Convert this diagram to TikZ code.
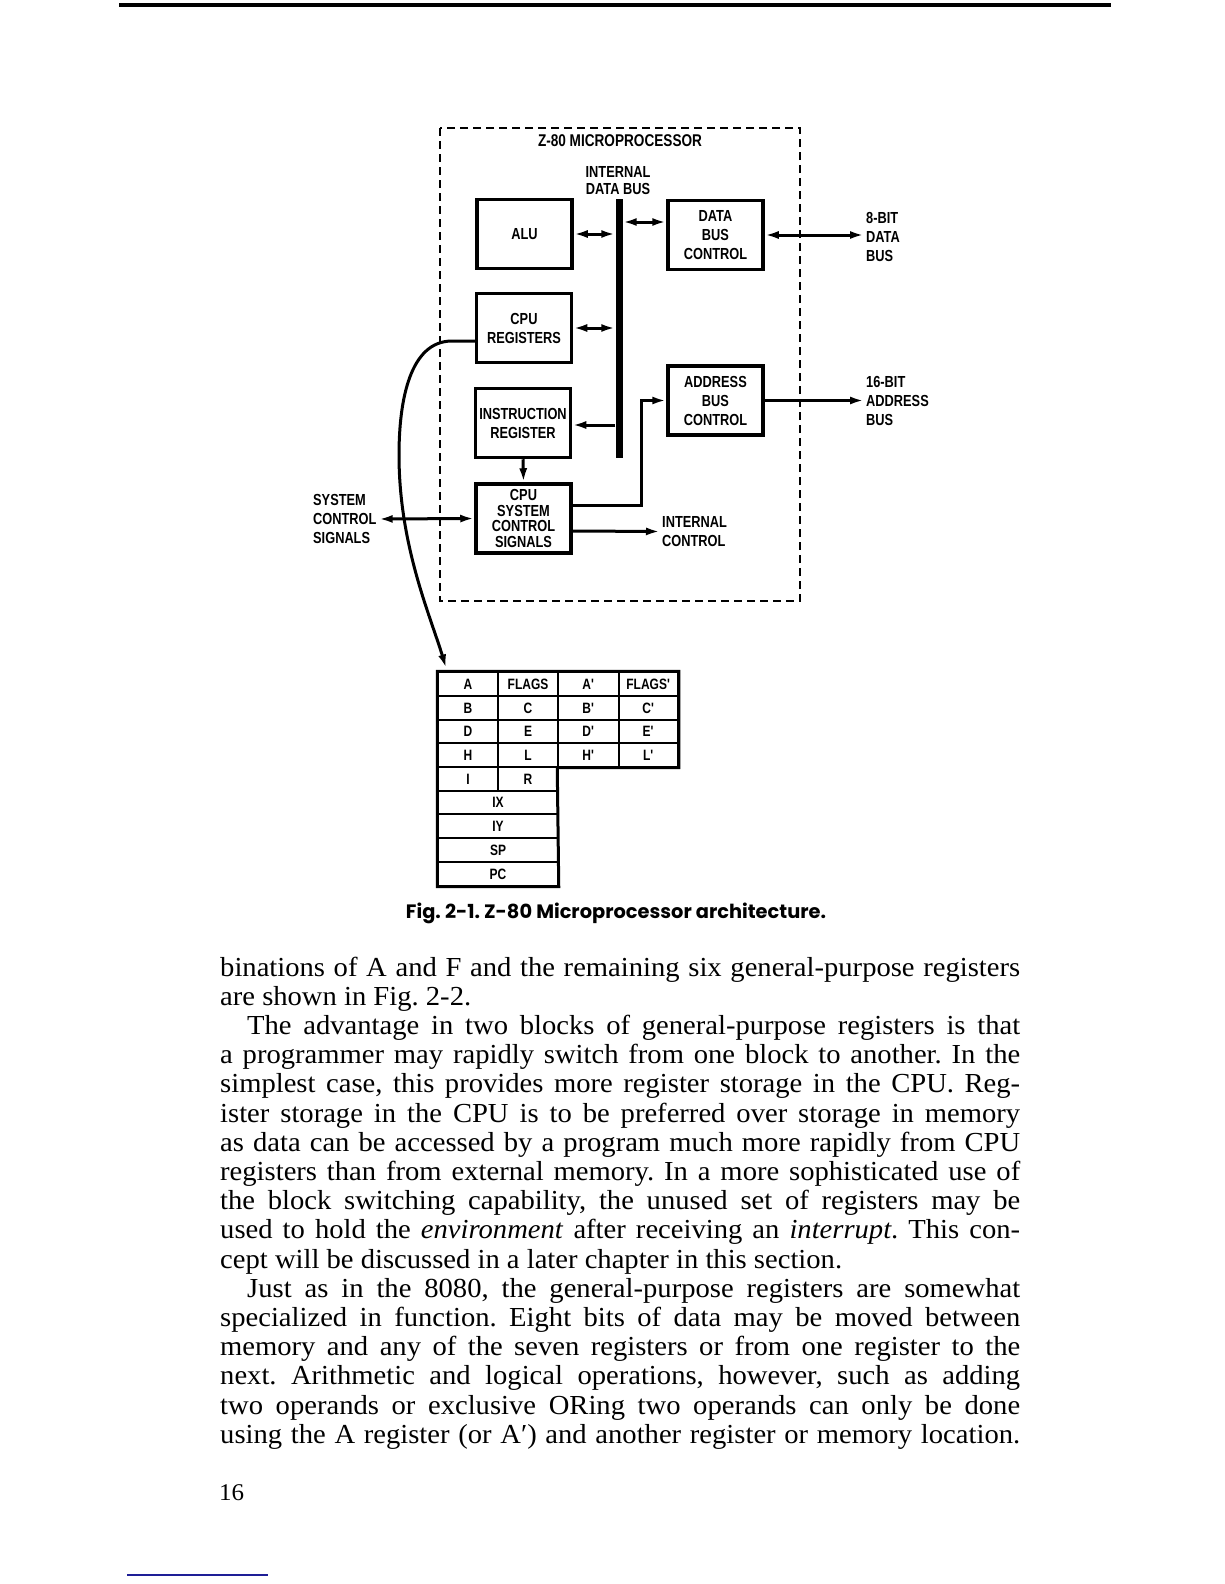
\documentclass[tikz,border=0pt]{standalone}
\usepackage{fontspec}
\setmainfont{Liberation Serif}[FakeStretch=1.04]
\newfontfamily\dfont{Liberation Sans}[FakeStretch=0.8]
\newfontfamily\capfont{Poppins}
\usetikzlibrary{arrows.meta,calc}
\definecolor{linkblue}{RGB}{30,30,150}
\tikzset{
  blk/.style={draw, line width=3.5pt, minimum width=95pt, minimum height=69pt, inner sep=0pt, align=center,
    font=\dfont\bfseries\fontsize{16}{19}\selectfont},
  lbl/.style={inner sep=2pt, font=\dfont\bfseries\fontsize{16}{19}\selectfont},
  arr/.style={line width=3pt, -{Latex[length=14pt,width=8pt]}},
  darr/.style={line width=3pt, {Latex[length=14pt,width=8pt]}-{Latex[length=14pt,width=8pt]}},
  cell/.style={draw, line width=1.5pt, minimum height=23.7pt, inner sep=0pt,
    font=\dfont\bfseries\fontsize{15}{15}\selectfont},
  body/.style={anchor=base west, inner sep=0pt, font=\fontsize{27.5}{29}\selectfont},
}
\newcommand{\jl}[1]{\makebox[800pt][s]{#1}}
\newcommand{\jli}[1]{\makebox[773pt][s]{#1}}
\newcommand{\pr}{\textquotesingle}
\begin{document}
\frenchspacing
\begin{tikzpicture}[x=1pt,y=-1pt]
\useasboundingbox (0,0) rectangle (1224,1584);
% top rule
\draw[line width=4.5pt] (119,5) -- (1111,5);
% dashed frame
\draw[line width=1.5pt, dash pattern=on 8pt off 5pt] (440,128) rectangle (800,601);
\node[lbl, font=\dfont\bfseries\fontsize{17}{19}\selectfont] (title) at (620,141) {Z-80 MICROPROCESSOR};
\node[lbl, align=center, font=\dfont\bfseries\fontsize{16}{17}\selectfont] (idb) at (618,180.5) {INTERNAL\\DATA BUS};
% bus bar
\node[fill, minimum width=7pt, minimum height=259pt, inner sep=0pt] (bus) at (619,328.5) {};
% blocks
\node[blk] (alu) at (524.5,234) {ALU};
\node[blk] (dbc) at (715.5,235) {DATA\\BUS\\CONTROL};
\node[blk] (creg) at (524,328) {CPU\\REGISTERS};
\node[blk] (ir) at (523,423) {INSTRUCTION\\REGISTER};
\node[blk] (abc) at (715.5,400.5) {ADDRESS\\BUS\\CONTROL};
\node[blk, font=\dfont\bfseries\fontsize{16}{15.5}\selectfont] (cscs) at (523.5,518.5) {CPU\\SYSTEM\\CONTROL\\SIGNALS};
% outside labels
\node[lbl, anchor=west, align=left] (db) at (864,237) {8-BIT\\DATA\\BUS};
\node[lbl, anchor=west, align=left] (ab) at (864,401) {16-BIT\\ADDRESS\\BUS};
\node[lbl, anchor=west, align=left] (ic) at (660,531.5) {INTERNAL\\CONTROL};
\node[lbl, anchor=west, align=left] (scs) at (311,519) {SYSTEM\\CONTROL\\SIGNALS};
% connectors
\draw[darr] (alu.east) -- (alu.east -| bus.west);
\draw[darr] ([yshift=13pt]dbc.west -| bus.east) -- ([yshift=13pt]dbc.west);
\draw[darr] (creg.east) -- (creg.east -| bus.west);
\draw[arr] ([yshift=-2pt]ir.east -| bus.west) -- ([yshift=-2pt]ir.east);
\draw[arr] (ir.south) -- (cscs.north);
\draw[arr] ([yshift=13.5pt]cscs.east) -- ++(69,0) |- (abc.west);
\draw[arr] ([yshift=-12.5pt]cscs.east) -- (ic.west);
\draw[darr] (scs.east) -- (cscs.west);
\draw[darr] (dbc.east) -- (dbc.east -| db.west);
\draw[arr] (abc.east) -- (abc.east -| ab.west);
% register table
\node[cell, minimum width=60pt] (ra)  at (468,684) {A};
\node[cell, minimum width=60pt] (rf)  at (528,684) {FLAGS};
\node[cell, minimum width=61pt] (rap) at (588.5,684) {A\pr};
\node[cell, minimum width=59pt] (rfp) at (648.5,684) {FLAGS\pr};
\node[cell, minimum width=60pt] (rb)  at (468,708) {B};
\node[cell, minimum width=60pt] (rc)  at (528,708) {C};
\node[cell, minimum width=61pt] (rbp) at (588.5,708) {B\pr};
\node[cell, minimum width=59pt] (rcp) at (648.5,708) {C\pr};
\node[cell, minimum width=60pt] (rd)  at (468,731.5) {D};
\node[cell, minimum width=60pt] (re)  at (528,731.5) {E};
\node[cell, minimum width=61pt] (rdp) at (588.5,731.5) {D\pr};
\node[cell, minimum width=59pt] (rep) at (648.5,731.5) {E\pr};
\node[cell, minimum width=60pt] (rh)  at (468,755) {H};
\node[cell, minimum width=60pt] (rl)  at (528,755) {L};
\node[cell, minimum width=61pt] (rhp) at (588.5,755) {H\pr};
\node[cell, minimum width=59pt] (rlp) at (648.5,755) {L\pr};
\node[cell, minimum width=60pt] (ri)  at (468,779) {I};
\node[cell, minimum width=60pt] (rr)  at (528,779) {R};
\node[cell, minimum width=120pt] (rix) at (498,802.5) {IX};
\node[cell, minimum width=120pt] (riy) at (498,826) {IY};
\node[cell, minimum width=120pt] (rsp) at (498,850) {SP};
\node[cell, minimum width=120pt] (rpc) at (498,874) {PC};
\draw[line width=3pt] (ra.north west) -- (rfp.north east) -- (rlp.south east) -- (rhp.south west) -- (rpc.south east) -- (rpc.south west) -- cycle;
% curve from CPU registers to table
\draw[arr] ([yshift=-13pt]creg.west) -- (452,341) .. controls (410,341) and (399,400) .. (399,455) .. controls (399,545) and (430,615) .. ([xshift=9pt,yshift=3pt]ra.north west);
% caption
\node[inner sep=0pt] (cap) at (616,913) {\resizebox{420pt}{!}{\capfont\bfseries Fig. 2-1. Z-80 Microprocessor architecture.}};
% body text
\node[body] (l1) at (220,976) {\jl{binations of A and F and the remaining six general-purpose registers}};
\node[body] (l2) at (220,1005.2) {are shown in Fig. 2-2.};
\node[body] (l3) at (247,1034.4) {\jli{The advantage in two blocks of general-purpose registers is that}};
\node[body] (l4) at (220,1063.6) {\jl{a programmer may rapidly switch from one block to another. In the}};
\node[body] (l5) at (220,1092.8) {\jl{simplest case, this provides more register storage in the CPU. Reg-}};
\node[body] (l6) at (220,1122) {\jl{ister storage in the CPU is to be preferred over storage in memory}};
\node[body] (l7) at (220,1151.2) {\jl{as data can be accessed by a program much more rapidly from CPU}};
\node[body] (l8) at (220,1180.4) {\jl{registers than from external memory. In a more sophisticated use of}};
\node[body] (l9) at (220,1209.6) {\jl{the block switching capability, the unused set of registers may be}};
\node[body] (l10) at (220,1238.8) {\jl{used to hold the \textit{environment} after receiving an \textit{interrupt}. This con-}};
\node[body] (l11) at (220,1268) {cept will be discussed in a later chapter in this section.};
\node[body] (l12) at (247,1297.2) {\jli{Just as in the 8080, the general-purpose registers are somewhat}};
\node[body] (l13) at (220,1326.4) {\jl{specialized in function. Eight bits of data may be moved between}};
\node[body] (l14) at (220,1355.6) {\jl{memory and any of the seven registers or from one register to the}};
\node[body] (l15) at (220,1384.8) {\jl{next. Arithmetic and logical operations, however, such as adding}};
\node[body] (l16) at (220,1414) {\jl{two operands or exclusive ORing two operands can only be done}};
\node[body] (l17) at (220,1443.2) {\jl{using the A register (or A′) and another register or memory location.}};
% page number and footer line
\node[body, font=\fontsize{24}{26}\selectfont] (pg) at (219,1500) {16};
\draw[linkblue, line width=1.5pt] (127,1575) -- (268,1575);
\end{tikzpicture}
\end{document}
